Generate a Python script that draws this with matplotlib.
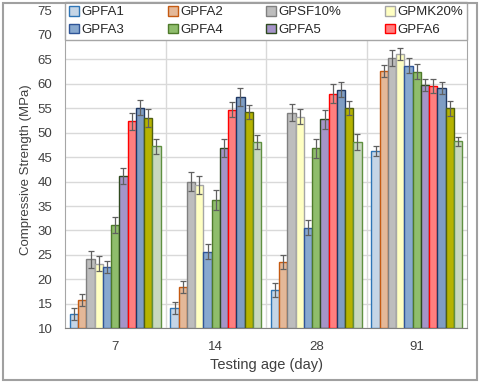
import matplotlib
matplotlib.use("Agg")
import matplotlib.pyplot as plt
import numpy as np
from matplotlib.patches import Rectangle

plt.rcParams["font.family"] = ["Liberation Sans", "DejaVu Sans"]

ages = ["7", "14", "28", "91"]
series = ["GPFA1", "GPFA2", "GPSF10%", "GPMK20%", "GPFA3", "GPFA4",
          "GPFA5", "GPFA6", "S9", "S10", "S11"]

# compressive strength (MPa) per series, one value per age
strength = [
    [12.9, 14.2, 17.8, 46.3],
    [15.8, 18.5, 23.6, 62.6],
    [24.1, 40.0, 54.1, 65.3],
    [23.2, 39.3, 53.3, 66.1],
    [22.5, 25.7, 30.6, 63.7],
    [31.1, 36.2, 46.8, 62.5],
    [41.1, 46.9, 52.7, 59.8],
    [52.3, 54.7, 58.0, 59.5],
    [55.1, 57.3, 58.8, 59.1],
    [53.0, 54.2, 55.1, 55.0],
    [47.2, 48.1, 48.1, 48.2],
]
errors = [
    [1.2, 1.2, 1.5, 1.0],
    [1.2, 1.2, 1.4, 1.2],
    [1.8, 2.0, 1.8, 1.6],
    [1.5, 1.8, 1.5, 1.2],
    [1.2, 1.5, 1.5, 1.5],
    [1.7, 2.0, 2.0, 1.5],
    [1.6, 1.8, 1.9, 1.2],
    [1.8, 1.5, 2.0, 1.4],
    [1.5, 1.9, 1.5, 1.2],
    [1.9, 1.4, 1.4, 1.5],
    [1.5, 1.4, 1.7, 1.0],
]

faces = ["#c5d5e6", "#e4b898", "#bdbdbd", "#ffffc2", "#88a9cf", "#8fbd6c",
         "#a594c8", "#ff7f7f", "#7f9dc3", "#b5b300", "#c8d8bf"]
edges = ["#2e75b6", "#c55a11", "#808080", "#a6a6a6", "#2f5597", "#4e7a2a",
         "#2f4a1f", "#ff0000", "#1f3864", "#4f5f10", "#5f9040"]

fig = plt.figure(figsize=(4.8, 3.83), dpi=100)
ax = fig.add_axes([0.1354, 0.1428, 0.8376, 0.830])

x = np.arange(len(ages))
n = len(series)
w = 0.082
handles = []
for i, name in enumerate(series):
    off = (i - (n - 1) / 2) * w
    b = ax.bar(x + off, np.array(strength[i]) - 10, width=w, bottom=10,
               color=faces[i], edgecolor=edges[i], linewidth=1.0,
               yerr=errors[i], capsize=2.5,
               error_kw=dict(ecolor="#606060", elinewidth=0.9, capthick=0.9),
               label=name, zorder=3)
    handles.append(b)

ax.set_xlim(-0.5, 3.5)
ax.set_ylim(10, 75)
ax.set_yticks(np.arange(10, 76, 5))
ax.set_xticks(x)
ax.set_xticklabels(ages)
ax.set_xticks([0.5, 1.5, 2.5], minor=True)
ax.tick_params(axis="both", which="both", length=0, labelsize=9.5,
               colors="#404040")
ax.tick_params(axis="y", pad=9)
ax.tick_params(axis="x", pad=9)
ax.grid(axis="y", color="#d9d9d9", linewidth=1.0)
ax.grid(axis="x", which="minor", color="#d9d9d9", linewidth=1.0)
ax.set_axisbelow(True)
for s in ax.spines.values():
    s.set_color("#a6a6a6")
ax.spines["bottom"].set_color("#808080")

ax.set_ylabel("Compressive Strength (MPa)", fontsize=9.5, color="#404040",
              labelpad=4)
ax.set_xlabel("Testing age (day)", fontsize=10.5, color="#404040", labelpad=4)

# legend fills column-wise, so interleave to get the row order of the original
order = [0, 4, 1, 5, 2, 6, 3, 7]
leg = ax.legend([handles[k] for k in order], [series[k] for k in order],
                ncol=4, loc="lower left", bbox_to_anchor=(0, 0.907, 1, 0.098),
                mode="expand", borderaxespad=0, fontsize=9.5,
                handlelength=0.75, handleheight=0.75, handletextpad=0.2,
                fancybox=False, framealpha=1, edgecolor="#a6a6a6",
                borderpad=0.3, labelspacing=0.4)
for t in leg.get_texts():
    t.set_color("#262626")
leg.set_zorder(5)

fig.patches.append(Rectangle((3 / 480, 3 / 383), 474 / 480, 377 / 383,
                             transform=fig.transFigure, fill=False,
                             edgecolor="#a0a0a0", linewidth=1.5))

fig.savefig("out.png", dpi=100)
